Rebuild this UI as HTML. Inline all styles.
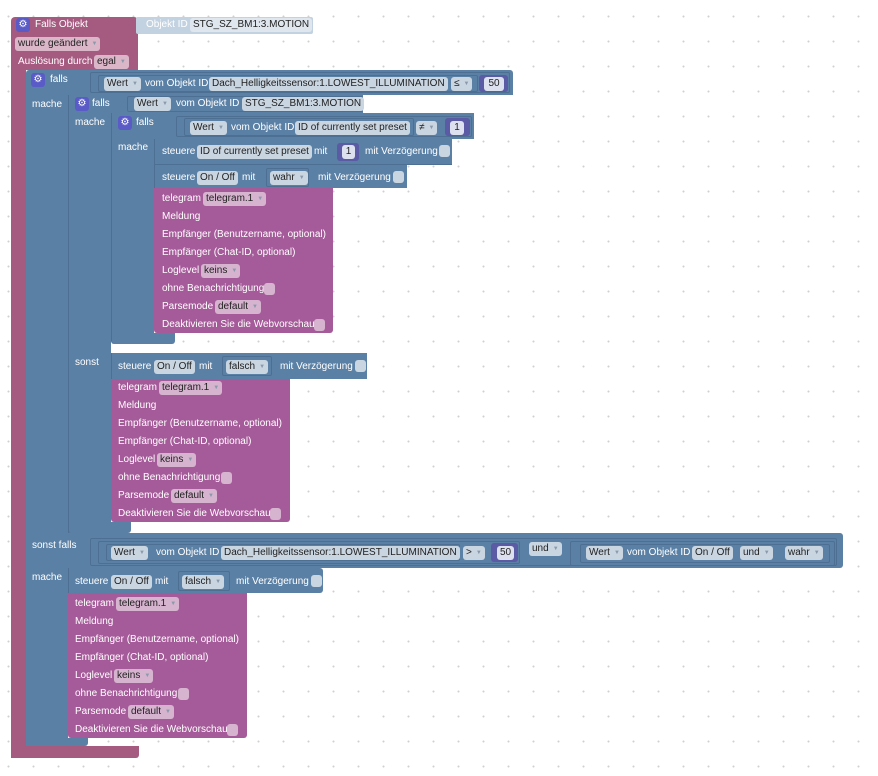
<!DOCTYPE html>
<html><head><meta charset="utf-8"><style>
body{margin:0;width:878px;height:776px;overflow:hidden;background:#fff;
background-image:radial-gradient(circle,#d0d0d0 0.8px,transparent 1.2px);background-size:25px 25px;background-position:-4px 4px;position:relative;font-family:"Liberation Sans",Arial,sans-serif}
div{position:absolute;box-sizing:border-box}
.b{background:#5b80a5}
.p{background:#a55b99}
.e{background:#a55b80}
.t{color:#fff;font-size:10px;line-height:14px;white-space:nowrap}
.f{height:14px;border-radius:3px;background:#c9d5e1;color:#222;font-size:10px;line-height:14px;padding:0 3px;white-space:nowrap}
.fp{background:#d6b3cf}
.fe{background:#dbb6c8}
.a{color:#8a9aaa;font-size:6px;margin-left:4px;vertical-align:1px}
.s{border:1px solid #4d6f92;border-radius:2px}
.n{background:#5b5ba5;border-radius:3px}
.nf{height:14px;border-radius:3px;background:#dde0ee;color:#222;font-size:10px;line-height:14px;text-align:center}
.g{width:14px;height:14px;border-radius:3px;background:#5b5bc8;color:#fff;font-size:10px;line-height:14px;text-align:center}
.c{width:11px;height:12px;border-radius:3px;background:#c9d5e1}
.cp{background:#d6b3cf}
</style></head><body>
<!-- event block -->
<div class="e" style="left:11px;top:17px;width:127px;height:53px;border-radius:4px 4px 0 0"></div>
<div class="e" style="left:11px;top:60px;width:15px;height:698px"></div>
<div class="e" style="left:11px;top:746px;width:128px;height:12px;border-radius:0 0 3px 3px"></div>
<div class="g" style="left:16px;top:18px">⚙</div>
<div class="t" style="left:35px;top:18px">Falls Objekt</div>
<div class="f fe" style="left:15px;top:37px">wurde geändert<span class="a">▼</span></div>
<div class="t" style="left:18px;top:55px">Auslösung durch</div>
<div class="f fe" style="left:94px;top:55px">egal<span class="a">▼</span></div>
<div style="left:136px;top:17px;width:177px;height:17px;background:#c3d2e1;border-radius:2px"></div>
<div class="t" style="left:146px;top:18px">Objekt ID</div>
<div class="f" style="left:190px;top:18px;background:#dfe6ee">STG_SZ_BM1:3.MOTION</div>

<!-- block1 -->
<div class="b" style="left:26px;top:70px;width:487px;height:25px;border-radius:3px 3px 0 0"></div>
<div class="b" style="left:26px;top:95px;width:42px;height:651px"></div>
<div class="b" style="left:26px;top:533px;width:817px;height:35px;border-radius:0 3px 3px 0"></div>
<div class="b" style="left:26px;top:738px;width:62px;height:8px;border-radius:0 0 3px 3px"></div>
<div class="g" style="left:31px;top:73px">⚙</div>
<div class="t" style="left:50px;top:73px">falls</div>
<div class="s" style="left:90px;top:72px;width:420px;height:21px"></div>
<div class="s" style="left:98px;top:75px;width:380px;height:17px"></div>
<div class="f" style="left:104px;top:77px">Wert<span class="a">▼</span></div>
<div class="t" style="left:145px;top:77px">vom Objekt ID</div>
<div class="f" style="left:209px;top:77px">Dach_Helligkeitssensor:1.LOWEST_ILLUMINATION</div>
<div class="f" style="left:451px;top:77px">≤<span class="a">▼</span></div>
<div class="n" style="left:479px;top:75px;width:29px;height:17px"></div>
<div class="nf" style="left:484px;top:77px;width:20px">50</div>
<div class="t" style="left:32px;top:98px">mache</div>

<!-- block2 -->
<div class="b" style="left:68px;top:95px;width:295px;height:18px;border-left:1px solid #4d6f92"></div>
<div class="b" style="left:68px;top:113px;width:43px;height:420px;border-left:1px solid #4d6f92"></div>
<div class="b" style="left:68px;top:522px;width:63px;height:11px;border-radius:0 0 3px 3px;border-left:1px solid #4d6f92"></div>
<div class="g" style="left:75px;top:97px">⚙</div>
<div class="t" style="left:92px;top:97px">falls</div>
<div class="s" style="left:127px;top:96px;width:236px;height:16px"></div>
<div class="f" style="left:134px;top:97px">Wert<span class="a">▼</span></div>
<div class="t" style="left:176px;top:97px">vom Objekt ID</div>
<div class="f" style="left:242px;top:97px">STG_SZ_BM1:3.MOTION</div>
<div class="t" style="left:75px;top:116px">mache</div>
<div class="t" style="left:75px;top:356px">sonst</div>

<!-- block3 -->
<div class="b" style="left:111px;top:113px;width:363px;height:26px;border-left:1px solid #4d6f92"></div>
<div class="b" style="left:111px;top:139px;width:43px;height:200px;border-left:1px solid #4d6f92"></div>
<div class="b" style="left:111px;top:333px;width:64px;height:11px;border-radius:0 0 3px 3px;border-left:1px solid #4d6f92"></div>
<div class="g" style="left:118px;top:116px">⚙</div>
<div class="t" style="left:136px;top:116px">falls</div>
<div class="s" style="left:176px;top:116px;width:296px;height:21px"></div>
<div class="s" style="left:184px;top:118px;width:230px;height:18px"></div>
<div class="f" style="left:190px;top:121px">Wert<span class="a">▼</span></div>
<div class="t" style="left:231px;top:121px">vom Objekt ID</div>
<div class="f" style="left:295px;top:121px">ID of currently set preset</div>
<div class="f" style="left:416px;top:121px">≠<span class="a">▼</span></div>
<div class="n" style="left:445px;top:118px;width:25px;height:18px"></div>
<div class="nf" style="left:450px;top:121px;width:14px">1</div>
<div class="t" style="left:118px;top:141px">mache</div>

<!-- steuere1 -->
<div class="b" style="left:154px;top:139px;width:298px;height:26px;border-left:1px solid #4d6f92;border-bottom:1px solid #4d6f92"></div>
<div class="t" style="left:162px;top:145px">steuere</div>
<div class="f" style="left:197px;top:145px">ID of currently set preset</div>
<div class="t" style="left:314px;top:145px">mit</div>
<div class="n" style="left:337px;top:143px;width:22px;height:18px"></div>
<div class="nf" style="left:342px;top:145px;width:13px">1</div>
<div class="t" style="left:365px;top:145px">mit Verzögerung</div>
<div class="c" style="left:439px;top:145px"></div>
<!-- steuere2 -->
<div class="b" style="left:154px;top:165px;width:253px;height:23px;border-left:1px solid #4d6f92"></div>
<div class="t" style="left:162px;top:171px">steuere</div>
<div class="f" style="left:197px;top:171px">On / Off</div>
<div class="t" style="left:242px;top:171px">mit</div>
<div class="s" style="left:266px;top:168px;width:43px;height:19px"></div>
<div class="f" style="left:270px;top:171px">wahr<span class="a">▼</span></div>
<div class="t" style="left:318px;top:171px">mit Verzögerung</div>
<div class="c" style="left:393px;top:171px"></div>
<!-- telegram1 -->
<div class="p" style="left:154px;top:188px;width:179px;height:145px;border-radius:0 0 3px 3px"></div>
<div class="t" style="left:162px;top:192px">telegram</div>
<div class="f fp" style="left:203px;top:192px">telegram.1<span class="a">▼</span></div>
<div class="t" style="left:162px;top:210px">Meldung</div>
<div class="t" style="left:162px;top:228px">Empfänger (Benutzername, optional)</div>
<div class="t" style="left:162px;top:246px">Empfänger (Chat-ID, optional)</div>
<div class="t" style="left:162px;top:264px">Loglevel</div>
<div class="f fp" style="left:201px;top:264px">keins<span class="a">▼</span></div>
<div class="t" style="left:162px;top:282px">ohne Benachrichtigung</div>
<div class="c cp" style="left:264px;top:283px"></div>
<div class="t" style="left:162px;top:300px">Parsemode</div>
<div class="f fp" style="left:215px;top:300px">default<span class="a">▼</span></div>
<div class="t" style="left:162px;top:318px">Deaktivieren Sie die Webvorschau</div>
<div class="c cp" style="left:314px;top:319px"></div>

<!-- block2 else steuere -->
<div class="b" style="left:111px;top:353px;width:256px;height:26px;border-left:1px solid #4d6f92"></div>
<div class="t" style="left:118px;top:360px">steuere</div>
<div class="f" style="left:154px;top:360px">On / Off</div>
<div class="t" style="left:199px;top:360px">mit</div>
<div class="s" style="left:222px;top:356px;width:50px;height:20px"></div>
<div class="f" style="left:226px;top:360px">falsch<span class="a">▼</span></div>
<div class="t" style="left:280px;top:360px">mit Verzögerung</div>
<div class="c" style="left:355px;top:360px"></div>
<div class="p" style="left:111px;top:379px;width:179px;height:143px;border-radius:0 0 3px 3px"></div>
<div class="t" style="left:118px;top:381px">telegram</div>
<div class="f fp" style="left:159px;top:381px">telegram.1<span class="a">▼</span></div>
<div class="t" style="left:118px;top:399px">Meldung</div>
<div class="t" style="left:118px;top:417px">Empfänger (Benutzername, optional)</div>
<div class="t" style="left:118px;top:435px">Empfänger (Chat-ID, optional)</div>
<div class="t" style="left:118px;top:453px">Loglevel</div>
<div class="f fp" style="left:157px;top:453px">keins<span class="a">▼</span></div>
<div class="t" style="left:118px;top:471px">ohne Benachrichtigung</div>
<div class="c cp" style="left:221px;top:472px"></div>
<div class="t" style="left:118px;top:489px">Parsemode</div>
<div class="f fp" style="left:171px;top:489px">default<span class="a">▼</span></div>
<div class="t" style="left:118px;top:507px">Deaktivieren Sie die Webvorschau</div>
<div class="c cp" style="left:270px;top:508px"></div>

<!-- sonst falls row -->
<div class="t" style="left:32px;top:539px">sonst falls</div>
<div class="s" style="left:90px;top:538px;width:747px;height:28px"></div>
<div class="s" style="left:98px;top:541px;width:422px;height:23px"></div>
<div class="s" style="left:106px;top:544px;width:354px;height:17px"></div>
<div class="f" style="left:111px;top:546px">Wert<span class="a">▼</span></div>
<div class="t" style="left:156px;top:546px">vom Objekt ID</div>
<div class="f" style="left:221px;top:546px">Dach_Helligkeitssensor:1.LOWEST_ILLUMINATION</div>
<div class="f" style="left:463px;top:546px">&gt;<span class="a">▼</span></div>
<div class="n" style="left:491px;top:543px;width:27px;height:19px"></div>
<div class="nf" style="left:497px;top:546px;width:17px">50</div>
<div class="f" style="left:529px;top:542px">und<span class="a">▼</span></div>
<div class="s" style="left:570px;top:541px;width:265px;height:25px"></div>
<div class="s" style="left:580px;top:544px;width:250px;height:19px"></div>
<div class="f" style="left:586px;top:546px">Wert<span class="a">▼</span></div>
<div class="t" style="left:627px;top:546px">vom Objekt ID</div>
<div class="f" style="left:692px;top:546px">On / Off</div>
<div class="f" style="left:740px;top:546px">und<span class="a">▼</span></div>
<div class="f" style="left:785px;top:546px">wahr<span class="a">▼</span></div>
<div class="t" style="left:32px;top:571px">mache</div>

<!-- steuere3 -->
<div class="b" style="left:68px;top:568px;width:255px;height:25px;border-left:1px solid #4d6f92;border-radius:0 3px 3px 0"></div>
<div class="t" style="left:75px;top:575px">steuere</div>
<div class="f" style="left:111px;top:575px">On / Off</div>
<div class="t" style="left:155px;top:575px">mit</div>
<div class="s" style="left:178px;top:571px;width:52px;height:20px"></div>
<div class="f" style="left:182px;top:575px">falsch<span class="a">▼</span></div>
<div class="t" style="left:236px;top:575px">mit Verzögerung</div>
<div class="c" style="left:311px;top:575px"></div>
<div class="p" style="left:68px;top:593px;width:179px;height:145px;border-radius:0 0 3px 3px"></div>
<div class="t" style="left:75px;top:597px">telegram</div>
<div class="f fp" style="left:116px;top:597px">telegram.1<span class="a">▼</span></div>
<div class="t" style="left:75px;top:615px">Meldung</div>
<div class="t" style="left:75px;top:633px">Empfänger (Benutzername, optional)</div>
<div class="t" style="left:75px;top:651px">Empfänger (Chat-ID, optional)</div>
<div class="t" style="left:75px;top:669px">Loglevel</div>
<div class="f fp" style="left:114px;top:669px">keins<span class="a">▼</span></div>
<div class="t" style="left:75px;top:687px">ohne Benachrichtigung</div>
<div class="c cp" style="left:178px;top:688px"></div>
<div class="t" style="left:75px;top:705px">Parsemode</div>
<div class="f fp" style="left:128px;top:705px">default<span class="a">▼</span></div>
<div class="t" style="left:75px;top:723px">Deaktivieren Sie die Webvorschau</div>
<div class="c cp" style="left:227px;top:724px"></div>
</body></html>
